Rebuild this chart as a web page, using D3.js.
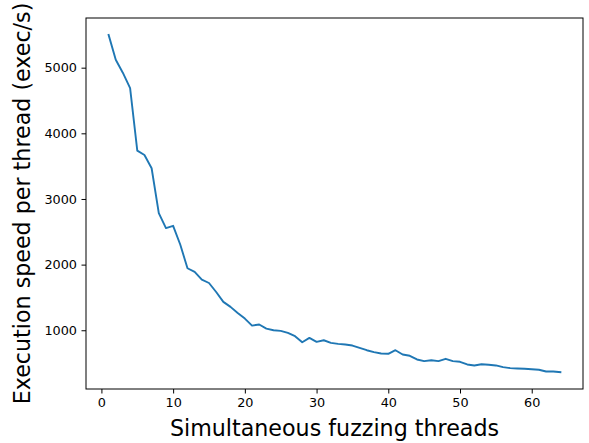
<!DOCTYPE html>
<html>
<head>
<meta charset="utf-8">
<script src="https://cdn.jsdelivr.net/npm/d3@7"></script>
<style>
  html, body { margin: 0; padding: 0; background: #fff; }
  svg { display: block; }
  text { font-family: "DejaVu Sans", sans-serif; fill: #000; }
</style>
</head>
<body>
<svg id="chart" width="589" height="443"></svg>
<script>
const threads = d3.range(1, 65);
const speed = [
  5500, 5120, 4920, 4690, 3736, 3670, 3468, 2784, 2556, 2591,
  2302, 1945, 1890, 1770, 1720, 1583, 1432, 1356, 1264, 1178,
  1071, 1087, 1026, 1000, 991, 960, 909, 818, 884, 824,
  848, 808, 793, 783, 767, 732, 696, 666, 646, 641,
  696, 631, 611, 555, 529, 544, 529, 565, 529, 520,
  479, 464, 483, 474, 464, 438, 423, 418, 413, 407,
  398, 372, 372, 362
];
const xTicks = [0, 10, 20, 30, 40, 50, 60];
const yTicks = [1000, 2000, 3000, 4000, 5000];
const xLabel = "Simultaneous fuzzing threads";
const yLabel = "Execution speed per thread (exec/s)";

const svg = d3.select("#chart");
const L = 86, R = 583, T = 18, B = 389;

function padded(ext) {
  const m = (ext[1] - ext[0]) * 0.05;
  return [ext[0] - m, ext[1] + m];
}
const x = d3.scaleLinear().domain(padded(d3.extent(threads))).range([L, R]);
const y = d3.scaleLinear().domain(padded(d3.extent(speed))).range([B, T]);

const tickFont = "12.8px";

// x axis
const xAxis = svg.append("g").attr("transform", `translate(0,${B})`)
  .call(d3.axisBottom(x).tickValues(xTicks).tickSize(4.5).tickPadding(4.5).tickFormat(d3.format("d")));
xAxis.select(".domain").remove();
xAxis.selectAll("line").attr("stroke", "#000").attr("stroke-width", 1);
xAxis.selectAll("text").attr("font-size", tickFont).attr("font-family", "DejaVu Sans").attr("fill", "#000");

// y axis
const yAxis = svg.append("g").attr("transform", `translate(${L},0)`)
  .call(d3.axisLeft(y).tickValues(yTicks).tickSize(4.5).tickPadding(4.5).tickFormat(d3.format("d")));
yAxis.select(".domain").remove();
yAxis.selectAll("line").attr("stroke", "#000").attr("stroke-width", 1);
yAxis.selectAll("text").attr("font-size", tickFont).attr("font-family", "DejaVu Sans").attr("fill", "#000");

// line
const line = d3.line().x((d, i) => x(threads[i])).y(d => y(d));
svg.append("path").datum(speed)
  .attr("d", line)
  .attr("fill", "none")
  .attr("stroke", "#1f77b4")
  .attr("stroke-width", 1.9)
  .attr("stroke-linejoin", "round")
  .attr("stroke-linecap", "square");

// frame
svg.append("rect").attr("x", L).attr("y", T).attr("width", R - L).attr("height", B - T)
  .attr("fill", "none").attr("stroke", "#000").attr("stroke-width", 1);

// labels
svg.append("text").attr("x", (L + R) / 2).attr("y", 436)
  .attr("text-anchor", "middle").attr("font-size", "22.2px").text(xLabel);
svg.append("text").attr("transform", `translate(30,${(T + B) / 2}) rotate(-90)`)
  .attr("text-anchor", "middle").attr("font-size", "22.2px").text(yLabel);
</script>
</body>
</html>
